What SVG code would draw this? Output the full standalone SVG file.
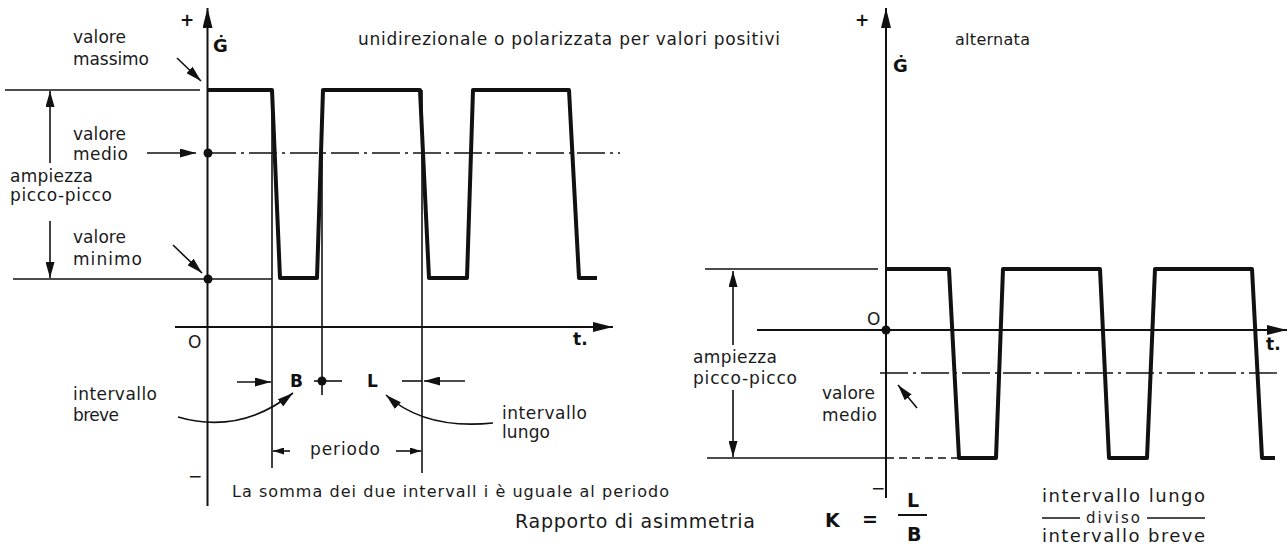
<svg xmlns="http://www.w3.org/2000/svg" width="1288" height="547" viewBox="0 0 1288 547">
<defs>
<marker id="ax" markerUnits="userSpaceOnUse" markerWidth="20" markerHeight="10" refX="20" refY="5" orient="auto"><path d="M0,0 L20,5 L0,10 z" fill="#111"/></marker>
<marker id="ar" markerUnits="userSpaceOnUse" markerWidth="16" markerHeight="9" refX="16" refY="4.5" orient="auto"><path d="M0,0 L16,4.5 L0,9 z" fill="#111"/></marker>
<marker id="sm" markerUnits="userSpaceOnUse" markerWidth="11" markerHeight="7" refX="11" refY="3.5" orient="auto"><path d="M0,0 L11,3.5 L0,7 z" fill="#111"/></marker>
<style>
.t{font-family:"DejaVu Sans","Liberation Sans",sans-serif;font-size:17px;fill:#1a1a1a}
.b{font-weight:bold;fill:#111}
.ax{stroke:#111;stroke-width:2;fill:none}
.thin{stroke:#111;stroke-width:1.6;fill:none}
.wave{stroke:#111;stroke-width:4;fill:none;stroke-linejoin:round}
.dd{stroke:#111;stroke-width:1.4;stroke-dasharray:28 5 3 5;fill:none}
.dot{fill:#111}
</style>
</defs>
<rect width="1288" height="547" fill="#fff"/>

<g id="left-graph">
<line class="ax" x1="207.5" y1="506" x2="207.5" y2="8" marker-end="url(#ax)"/>
<line class="ax" x1="175" y1="327" x2="613" y2="327" marker-end="url(#ax)"/>
<line class="thin" x1="5" y1="90" x2="200" y2="90"/>
<line class="thin" x1="13" y1="279" x2="272" y2="279"/>
<line class="dd" x1="208" y1="153" x2="620" y2="153"/>
<line class="thin" x1="272" y1="90" x2="272" y2="468"/>
<line class="thin" x1="322" y1="90" x2="322" y2="395"/>
<line class="thin" x1="422" y1="90" x2="422" y2="473"/>
<path class="wave" d="M208,90 L272,90 L280,278 L317,278 L323,90 L420,90 L429,278 L467,278 L473,90 L569,90 L579,278 L597,278"/>
<circle class="dot" cx="208" cy="153" r="4.5"/>
<circle class="dot" cx="208" cy="279" r="4.5"/>
<circle class="dot" cx="322" cy="381" r="4.5"/>
<line class="thin" x1="314" y1="381" x2="342" y2="381"/>
<line class="thin" x1="402" y1="381" x2="422" y2="381"/>
</g>

<g id="right-graph">
<line class="ax" x1="886" y1="498" x2="886" y2="8" marker-end="url(#ax)"/>
<line class="ax" x1="757" y1="330" x2="1287" y2="330" marker-end="url(#ax)"/>
<line class="thin" x1="705" y1="269" x2="878" y2="269"/>
<line class="thin" x1="707" y1="458" x2="886" y2="458"/>
<line class="thin" x1="886" y1="458" x2="958" y2="458" stroke-dasharray="8 5"/>
<line class="dd" x1="880" y1="373" x2="1280" y2="373"/>
<path class="wave" d="M887,269 L949,269 L959,458 L996,458 L1003,269 L1100,269 L1109,458 L1147,458 L1155,269 L1252,269 L1262,458 L1275,458"/>
<circle class="dot" cx="886" cy="330" r="4.5"/>
</g>

<g id="connectors">
<line class="thin" x1="50" y1="163" x2="50" y2="91" marker-end="url(#ar)"/>
<line class="thin" x1="50" y1="221" x2="50" y2="278" marker-end="url(#ar)"/>
<line class="thin" x1="177" y1="58" x2="201" y2="81" marker-end="url(#ar)"/>
<line class="thin" x1="147" y1="153" x2="196" y2="153" marker-end="url(#ar)"/>
<line class="thin" x1="173" y1="245" x2="202" y2="273" marker-end="url(#ar)"/>
<line class="thin" x1="237" y1="382" x2="271" y2="382" marker-end="url(#ar)"/>
<line class="thin" x1="465" y1="381" x2="424" y2="381" marker-end="url(#ar)"/>
<path class="thin" d="M178,417 Q240,435 293,393" marker-end="url(#ar)"/>
<path class="thin" d="M493,423 Q425,430 386,395" marker-end="url(#ar)"/>
<line class="thin" x1="290" y1="451" x2="273" y2="451" marker-end="url(#sm)"/>
<line class="thin" x1="396" y1="451" x2="421" y2="451" marker-end="url(#sm)"/>
<line class="thin" x1="733" y1="345" x2="733" y2="271" marker-end="url(#ar)"/>
<line class="thin" x1="733" y1="390" x2="733" y2="457" marker-end="url(#ar)"/>
<line class="thin" x1="917" y1="408" x2="898" y2="385" marker-end="url(#ar)"/>
</g>

<g id="left-labels" class="t">
<text x="180" y="26" class="b" font-size="17">+</text>
<text x="188" y="482" font-size="17">−</text>
<text x="213" y="52" class="b" font-size="18">Ġ</text>
<text x="358" y="45" textLength="422" lengthAdjust="spacing">unidirezionale o polarizzata per valori positivi</text>
<text x="73" y="43" textLength="53" lengthAdjust="spacing">valore</text>
<text x="73" y="65" textLength="76" lengthAdjust="spacing">massimo</text>
<text x="73" y="140" textLength="53" lengthAdjust="spacing">valore</text>
<text x="73" y="160" textLength="55" lengthAdjust="spacing">medio</text>
<text x="10" y="182" textLength="83" lengthAdjust="spacing">ampiezza</text>
<text x="10" y="201" textLength="102" lengthAdjust="spacing">picco-picco</text>
<text x="73" y="243" textLength="53" lengthAdjust="spacing">valore</text>
<text x="73" y="265" textLength="69" lengthAdjust="spacing">minimo</text>
<text x="188" y="348" font-size="17">O</text>
<text x="573" y="345" class="b" font-size="17">t.</text>
<text x="290" y="387" class="b" font-size="17">B</text>
<text x="367" y="387" class="b" font-size="17">L</text>
<text x="73" y="400" textLength="84" lengthAdjust="spacing">intervallo</text>
<text x="73" y="421" textLength="46" lengthAdjust="spacing">breve</text>
<text x="502" y="419" textLength="85" lengthAdjust="spacing">intervallo</text>
<text x="502" y="438" textLength="48" lengthAdjust="spacing">lungo</text>
<text x="310" y="455" textLength="70" lengthAdjust="spacing">periodo</text>
<text x="232" y="497" font-size="16" textLength="437" lengthAdjust="spacing">La somma dei due intervall i è uguale al periodo</text>
</g>

<g id="right-labels" class="t">
<text x="855" y="26" class="b" font-size="17">+</text>
<text x="871" y="494" font-size="17">−</text>
<text x="893" y="72" class="b" font-size="18">Ġ</text>
<text x="955" y="45" font-size="16" textLength="75" lengthAdjust="spacing">alternata</text>
<text x="693" y="363" textLength="84" lengthAdjust="spacing">ampiezza</text>
<text x="693" y="384" textLength="104" lengthAdjust="spacing">picco-picco</text>
<text x="822" y="399" textLength="53" lengthAdjust="spacing">valore</text>
<text x="822" y="421" textLength="55" lengthAdjust="spacing">medio</text>
<text x="867" y="325" font-size="17">O</text>
<text x="1266" y="350" class="b" font-size="17">t.</text>
</g>

<g id="formula" class="t">
<text x="515" y="528" font-size="19" textLength="240" lengthAdjust="spacing">Rapporto di asimmetria</text>
<text x="825" y="527" class="b" font-size="19">K</text>
<text x="862" y="526" class="b" font-size="19">=</text>
<text x="907" y="507" class="b" font-size="19">L</text>
<line class="ax" x1="898" y1="515" x2="927" y2="515"/>
<text x="907" y="541" class="b" font-size="19">B</text>
<text x="1042" y="502" font-size="18" textLength="163" lengthAdjust="spacing">intervallo lungo</text>
<line class="thin" x1="1042" y1="518" x2="1080" y2="518"/>
<text x="1086" y="523" font-size="15" textLength="54" lengthAdjust="spacing">diviso</text>
<line class="thin" x1="1147" y1="518" x2="1205" y2="518"/>
<text x="1042" y="542" font-size="18" textLength="163" lengthAdjust="spacing">intervallo breve</text>
</g>
</svg>
